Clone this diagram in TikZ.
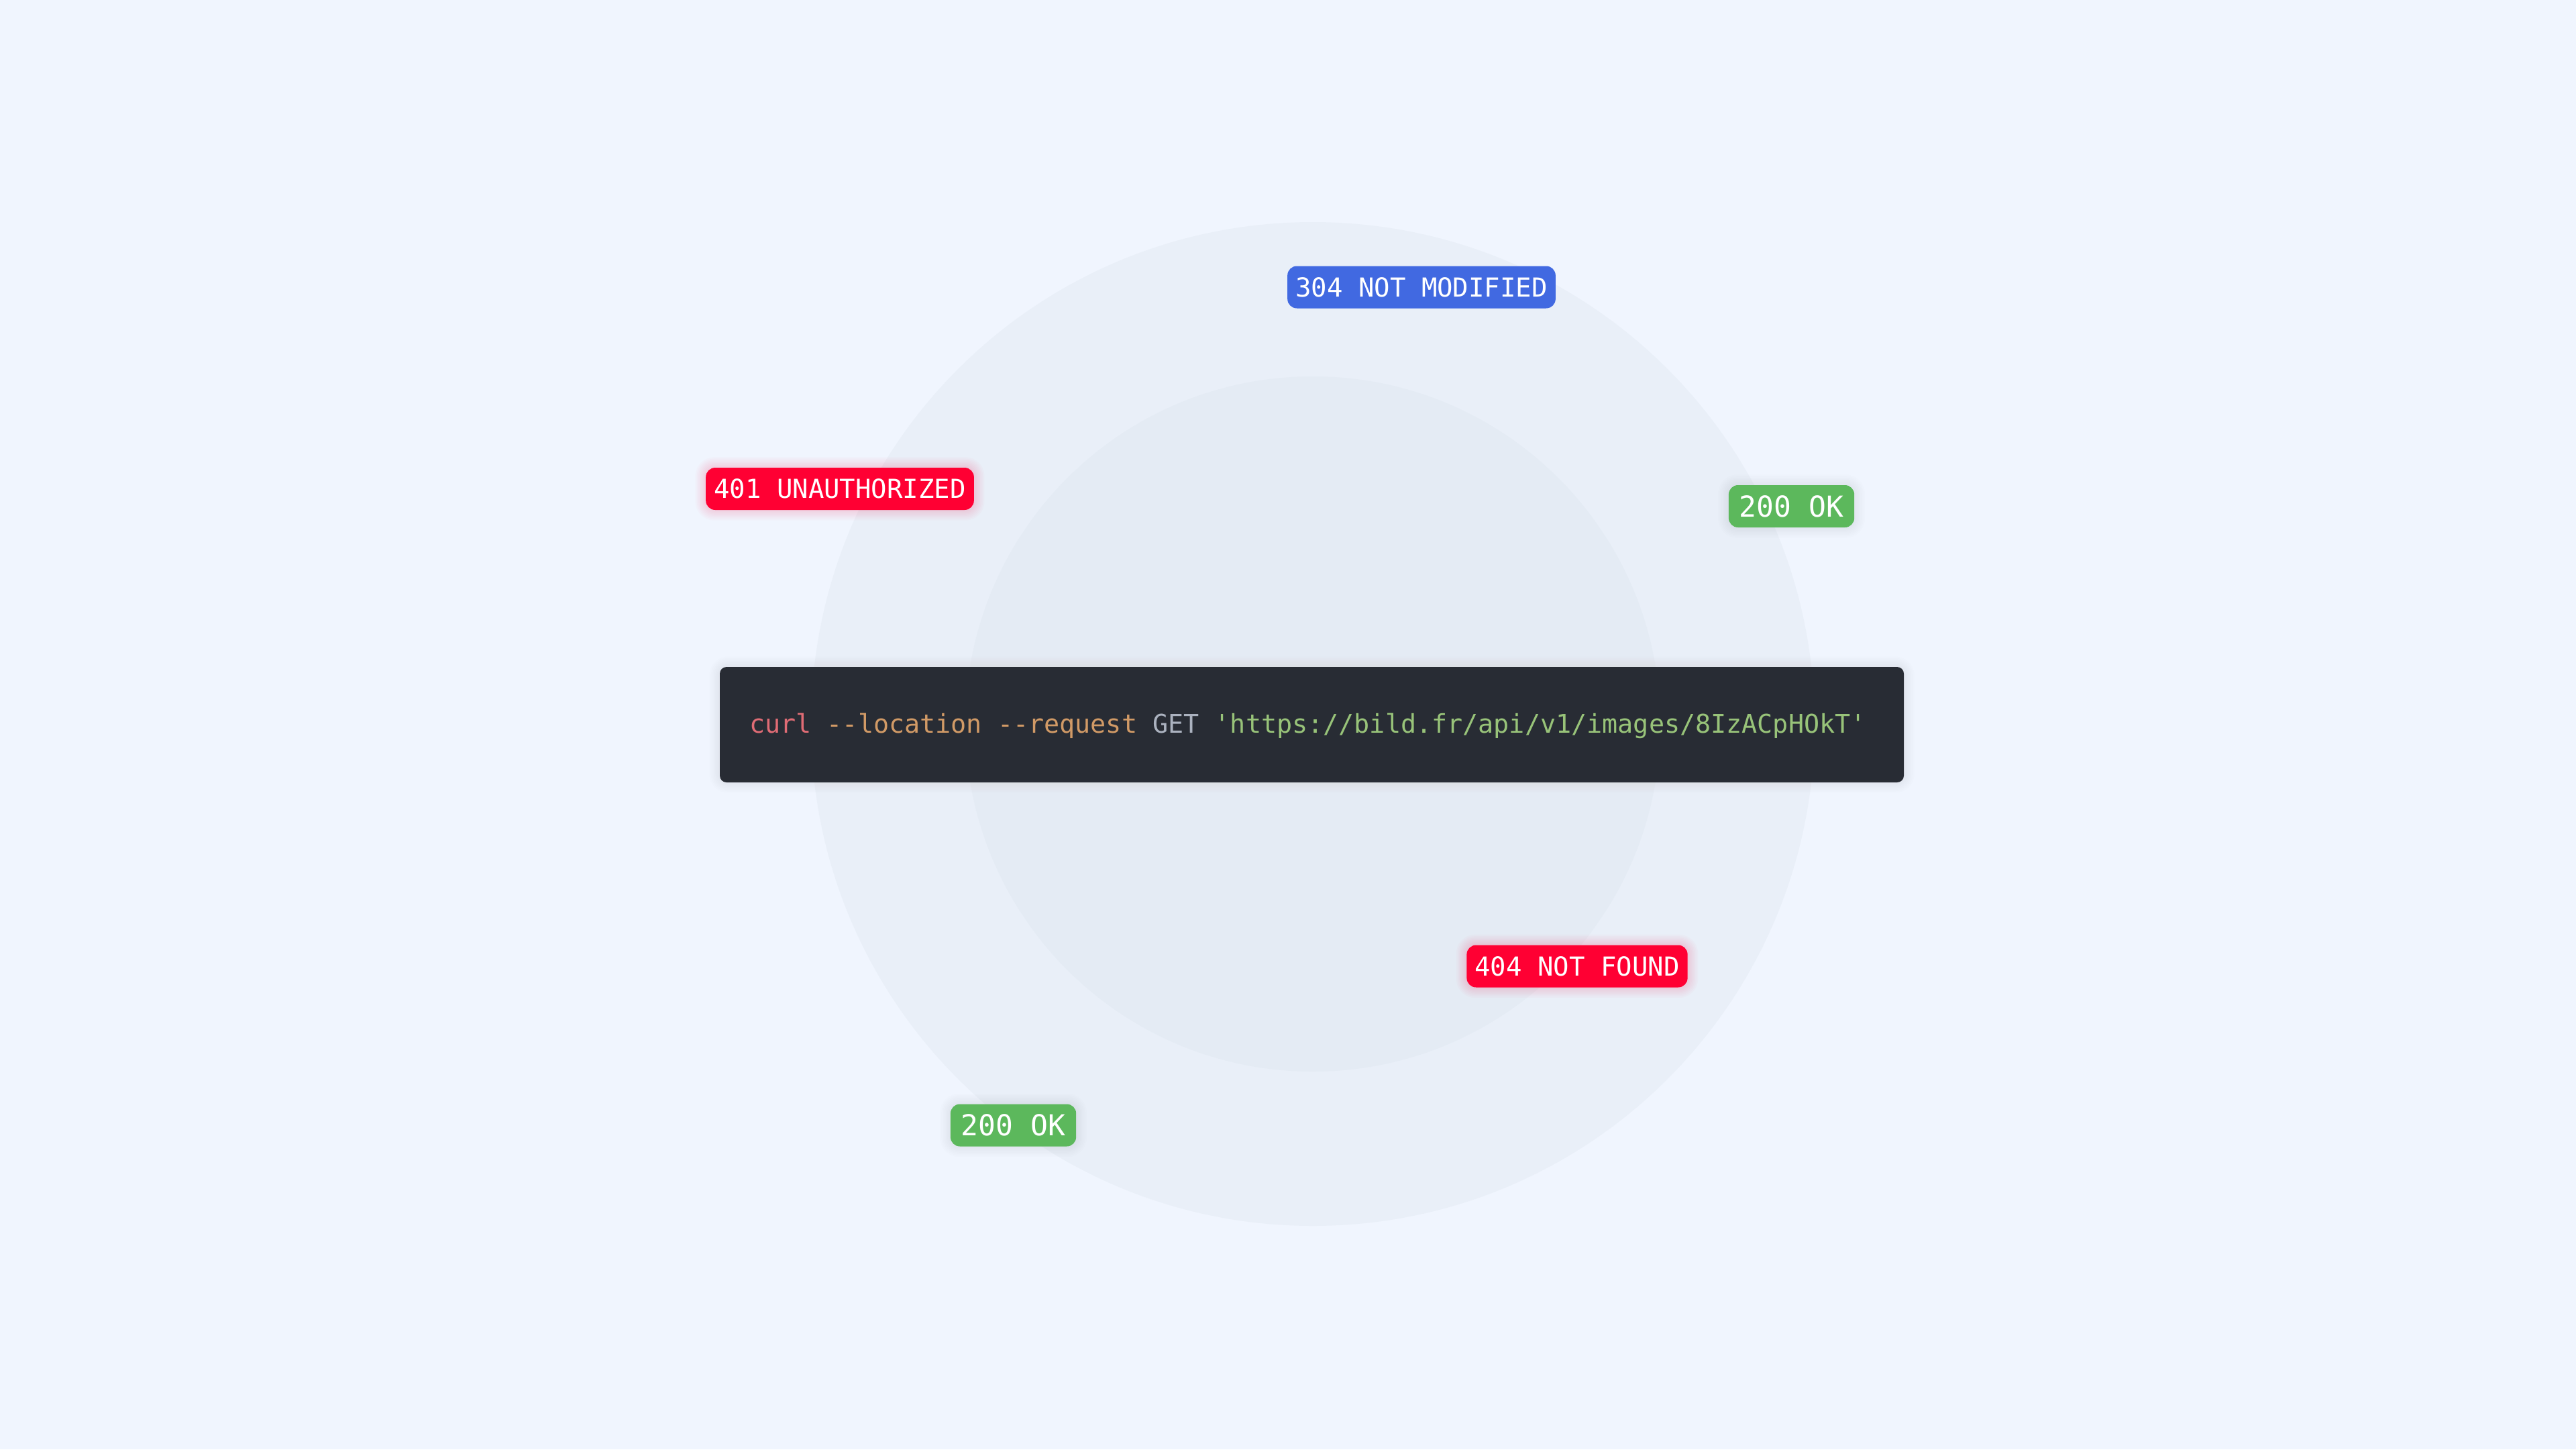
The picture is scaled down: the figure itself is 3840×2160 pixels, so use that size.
\documentclass[tikz,border=0pt]{standalone}
\usepackage{fontspec}
\newfontfamily\codefont{DejaVu Sans Mono}[Ligatures=TeXOff]
\usetikzlibrary{calc}
\definecolor{bgc}{HTML}{F0F5FE}
\definecolor{ringout}{HTML}{E9EFF8}
\definecolor{ringin}{HTML}{E4EBF4}
\definecolor{codebg}{HTML}{282C34}
\definecolor{ckw}{HTML}{E06C75}
\definecolor{cflag}{HTML}{D19A66}
\definecolor{cget}{HTML}{ABB2BF}
\definecolor{cstr}{HTML}{98C379}
\definecolor{bred}{HTML}{FF0033}
\definecolor{bblue}{HTML}{4169E1}
\definecolor{bgreen}{HTML}{5CB85C}
\pgfdeclarelayer{bg}\pgfdeclarelayer{glow}\pgfsetlayers{bg,glow,main}
\tikzset{
  badge/.style={rounded corners=14pt, inner xsep=12pt, inner ysep=0pt,
    minimum height=63pt, text=white, font=\codefont\fontsize{39}{39}\selectfont},
  badgebig/.style={badge, inner xsep=16pt, font=\codefont\fontsize{43}{43}\selectfont},
  codebox/.style={fill=codebg, rounded corners=10pt, inner sep=0pt},
  codetext/.style={inner sep=0pt, anchor=base west, font=\codefont\fontsize{38.4}{38.4}\selectfont},
}
\newcommand{\glowaround}[3]{%
  \foreach \k in {1,...,7}{
    \fill[#2, opacity=#3, rounded corners=14pt+\k*2pt]
      ($(#1.south west)+(-\k*2.2pt,-\k*2.2pt)$) rectangle ($(#1.north east)+(\k*2.2pt,\k*2.2pt)$);
  }}
\begin{document}
\begin{tikzpicture}[x=1pt,y=-1pt]
\begin{pgfonlayer}{bg}
  \fill[bgc] (0,0) rectangle (3840,2160);
  \useasboundingbox (0,0) rectangle (3840,2160);
  \coordinate (ctr) at (1957,1079);
  \fill[ringout] (ctr) circle[radius=748pt];
  \fill[ringin] (ctr) circle[radius=518pt];
\end{pgfonlayer}

\node[codebox, minimum width=1765pt, minimum height=172pt] (code) at (1955.5,1080) {};
\node[codetext] (cmd) at (1117,1092)
  {{\color{ckw}curl} {\color{cflag}--location --request} {\color{cget}GET} {\color{cstr}'https://bild.fr/api/v1/images/8IzACpHOkT'}};

\node[badge, fill=bblue] (b304) at (2119,428) {304 NOT MODIFIED};
\node[badge, fill=bred] (b401) at (1252,728.5) {401 UNAUTHORIZED};
\node[badgebig, fill=bgreen] (b200a) at (2670.5,754.5) {200 OK};
\node[badge, fill=bred] (b404) at (2351,1440) {404 NOT FOUND};
\node[badgebig, fill=bgreen] (b200b) at (1510.5,1677) {200 OK};

\begin{pgfonlayer}{glow}
  \glowaround{b401}{bred}{0.02}
  \glowaround{b404}{bred}{0.02}
  \glowaround{b200a}{black!60}{0.01}
  \glowaround{b200b}{black!60}{0.01}
  \glowaround{code}{black!60}{0.008}
\end{pgfonlayer}
\end{tikzpicture}
\end{document}
